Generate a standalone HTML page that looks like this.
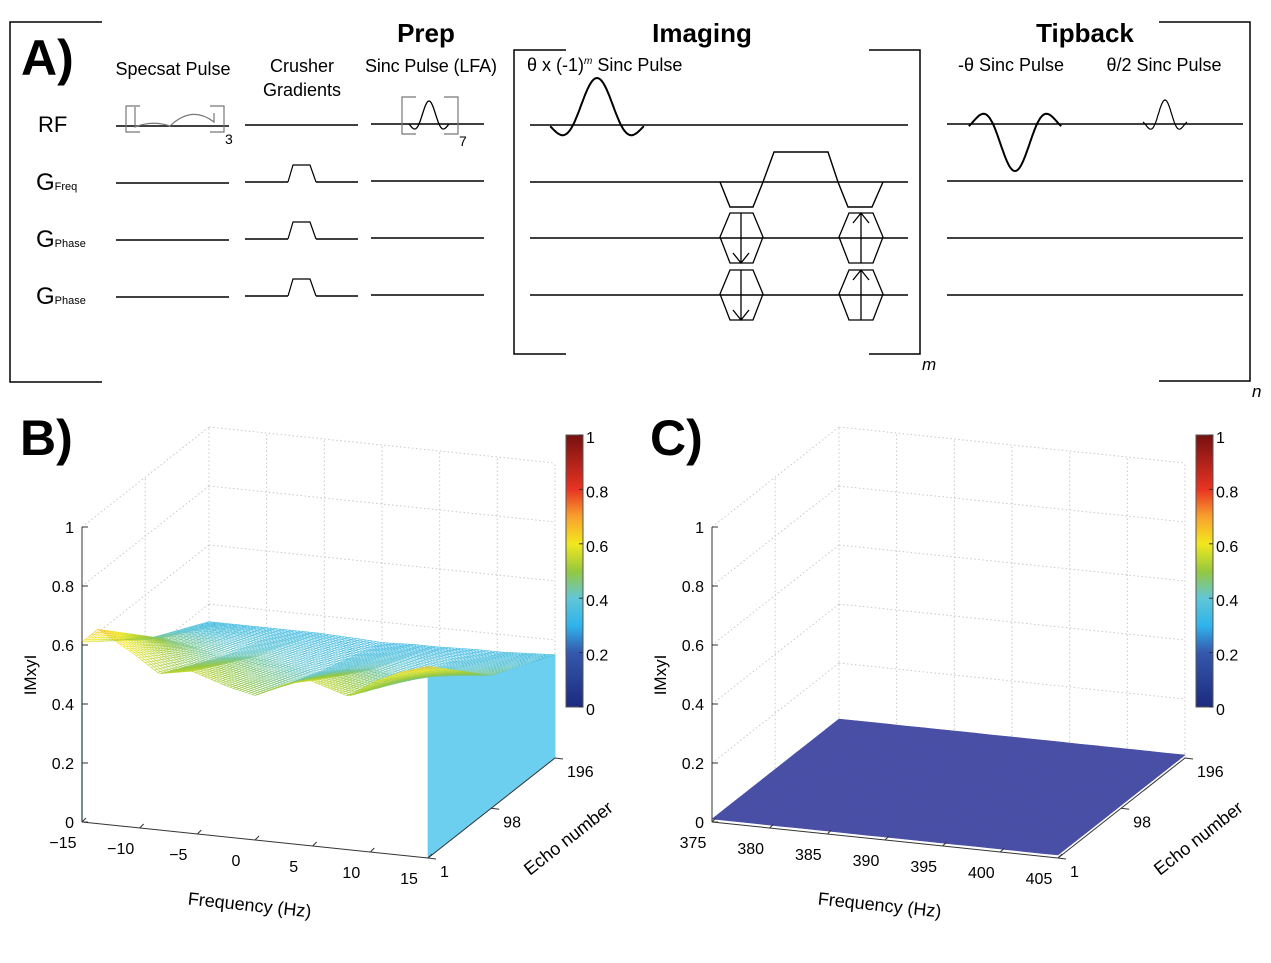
<!DOCTYPE html>
<html><head><meta charset="utf-8"><style>
html,body{margin:0;padding:0;background:#fff;}
svg text{font-family:"Liberation Sans",sans-serif;}
</style></head><body>
<svg id="fig" width="1271" height="958" viewBox="0 0 1271 958" xmlns="http://www.w3.org/2000/svg">
<defs>
<linearGradient id="jet" x1="0" y1="1" x2="0" y2="0">
<stop offset="0" stop-color="#1c2a7e"/><stop offset="0.2" stop-color="#3558ac"/><stop offset="0.3" stop-color="#2fb4ec"/><stop offset="0.4" stop-color="#62c6d6"/><stop offset="0.5" stop-color="#96c83e"/><stop offset="0.6" stop-color="#f2e81e"/><stop offset="0.7" stop-color="#f8a02e"/><stop offset="0.8" stop-color="#e83422"/><stop offset="1" stop-color="#761010"/>
</linearGradient>
</defs>
<g id="panelA" fill="none" stroke="#000" stroke-width="1.5">
<path d="M102 22 H10 V382 H102"/>
<path d="M1159 22 H1250 V381 H1159"/>
<path d="M566 50 H514 V354 H566"/>
<path d="M869 50 H920 V354 H869"/>
<g stroke-width="1.4">
<path d="M116 126 H229 M245 125 H358 M371 124 H484"/>
<path d="M116 183 H229 M245 182 H288 M316 182 H358 M371 181 H484"/>
<path d="M116 240 H229 M245 239 H288 M316 239 H358 M371 238 H484"/>
<path d="M116 297 H229 M245 296 H288 M316 296 H358 M371 295 H484"/>
<path d="M530 125 H908 M530 182 H908 M530 238 H908 M530 295 H908"/>
<path d="M947 124 H1243 M947 181 H1243 M947 238 H1243 M947 295 H1243"/>
</g>
<g stroke-width="1.2">
<path d="M288 182 L293 165 H310 L316 182"/>
<path d="M288 239 L293 222 H310 L316 239"/>
<path d="M288 296 L293 279 H310 L316 296"/>
</g>
<g stroke="#777" stroke-width="1.2">
<path d="M140 106 H126 V132 H140 M210 106 H224 V132 H210"/>
<path d="M135 107 V127 Q152 120 170 126 Q192 105 214 122 V113"/>
</g>
<g stroke="#777" stroke-width="1.2">
<path d="M416 97 H402 V134 H416 M444 97 H458 V134 H444"/>
</g>
<path id="sincLFA" stroke-width="1.3"/>
<path id="sincImg" stroke-width="2"/>
<path id="sincNeg" stroke-width="2"/>
<path id="sincHalf" stroke-width="1.2"/>
<g stroke-width="1.4">
<path d="M720 182 L730 207 H753 L763 182 L774 152 H828 L838 182 L848 207 H872 L883 182"/>
</g>
<g stroke-width="1.3">
<path d="M720 237 L730 213 H753 L763 237 L753 263 H730 Z M741 213 V263 M733 253 L741 263 L749 253"/>
<path d="M720 294 L730 270 H753 L763 294 L753 320 H730 Z M741 270 V320 M733 310 L741 320 L749 310"/>
<path d="M839 237 L849 213 H873 L883 237 L873 263 H849 Z M861 213 V263 M853 223 L861 213 L869 223"/>
<path d="M839 294 L849 270 H873 L883 294 L873 320 H849 Z M861 270 V320 M853 280 L861 270 L869 280"/>
</g>
</g>
<g fill="#000">
<text x="21" y="75" font-size="50" font-weight="bold">A)</text>
<text x="38" y="132" font-size="22">RF</text>
<text x="36" y="190" font-size="24">G<tspan font-size="11">Freq</tspan></text>
<text x="36" y="247" font-size="24">G<tspan font-size="11">Phase</tspan></text>
<text x="36" y="304" font-size="24">G<tspan font-size="11">Phase</tspan></text>
<text x="173" y="75" font-size="18" text-anchor="middle">Specsat Pulse</text>
<text x="302" y="72" font-size="18" text-anchor="middle">Crusher</text>
<text x="302" y="96" font-size="18" text-anchor="middle">Gradients</text>
<text x="426" y="42" font-size="26" font-weight="bold" text-anchor="middle">Prep</text>
<text x="431" y="72" font-size="18" text-anchor="middle" textLength="132">Sinc Pulse (LFA)</text>
<text x="225" y="144" font-size="14">3</text>
<text x="459" y="146" font-size="14">7</text>
<text x="702" y="42" font-size="26" font-weight="bold" text-anchor="middle">Imaging</text>
<text x="527" y="71" font-size="18">θ x (-1)<tspan font-size="10" dy="-7" font-style="italic">m</tspan><tspan dy="7"> Sinc Pulse</tspan></text>
<text x="922" y="370" font-size="17" font-style="italic">m</text>
<text x="1085" y="42" font-size="26" font-weight="bold" text-anchor="middle">Tipback</text>
<text x="1011" y="71" font-size="18" text-anchor="middle">-θ Sinc Pulse</text>
<text x="1164" y="71" font-size="18" text-anchor="middle">θ/2 Sinc Pulse</text>
<text x="1252" y="397" font-size="17" font-style="italic">n</text>
</g>
<g id="panelB"></g>
<g id="panelC"></g>
</svg>
<script>
// ---- data ----
const zTicks = [0, 0.2, 0.4, 0.6, 0.8, 1];
const zTickLabels = ["0", "0.2", "0.4", "0.6", "0.8", "1"];
const echoTicks = [1, 98, 196];
const echoRows = [1, 98, 196];
const freqTicksB = [-15, -10, -5, 0, 5, 10, 15];
const freqB = [-15, -13.6, -10.4, -8.3, -5.5, -2.3, 0, 2.7, 4.8, 8.1, 10.4, 12.6, 15];
const zBEcho1 = [0.61, 0.66, 0.585, 0.53, 0.55, 0.51, 0.49, 0.54, 0.56, 0.52, 0.58, 0.62, 0.65];
const zBEcho98 = [0.45, 0.46, 0.44, 0.42, 0.43, 0.41, 0.4, 0.42, 0.43, 0.41, 0.43, 0.44, 0.45];
const zBEcho196 = [0.34, 0.34, 0.34, 0.34, 0.34, 0.335, 0.33, 0.335, 0.335, 0.34, 0.34, 0.345, 0.35];
const freqTicksC = [375, 380, 385, 390, 395, 400, 405];
const freqC = [375, 390, 405];
const zCEcho1 = [0.01, 0.01, 0.01];
const zCEcho98 = [0.01, 0.01, 0.01];
const zCEcho196 = [0.01, 0.01, 0.01];
const cbarTicks = [0, 0.2, 0.4, 0.6, 0.8, 1];
const cbarLabels = ["0", "0.2", "0.4", "0.6", "0.8", "1"];

const NS = "http://www.w3.org/2000/svg";
function mk(tag, attrs, parent) {
  const e = document.createElementNS(NS, tag);
  for (const k in attrs) e.setAttribute(k, attrs[k]);
  parent.appendChild(e);
  return e;
}

function sincD(cx, by, amp, unit, tmax) {
  let d = "";
  for (let i = 0; i <= 80; i++) {
    const t = -tmax + 2 * tmax * i / 80;
    const v = Math.abs(t) < 1e-6 ? 1 : Math.sin(Math.PI * t) / (Math.PI * t);
    d += (i ? "L" : "M") + (cx + t * unit).toFixed(1) + " " + (by - amp * v).toFixed(1);
  }
  return d;
}
document.getElementById("sincLFA").setAttribute("d", sincD(429, 124, 23, 10, 2));
document.getElementById("sincImg").setAttribute("d", sincD(597, 125, 47, 24, 1.95));
document.getElementById("sincNeg").setAttribute("d", sincD(1015, 124, -47, 22, 2.1));
document.getElementById("sincHalf").setAttribute("d", sincD(1165, 124, 24, 10, 2.2));

const jStops = [[0,[28,42,126]],[0.2,[53,88,172]],[0.3,[47,180,236]],[0.4,[98,198,214]],[0.5,[150,200,62]],[0.6,[242,232,30]],[0.7,[248,160,46]],[0.8,[232,52,34]],[1,[118,16,16]]];
function jet(v) {
  v = Math.max(0, Math.min(1, v));
  for (let i = 1; i < jStops.length; i++) {
    if (v <= jStops[i][0]) {
      const a = jStops[i-1], b = jStops[i], t = (v - a[0]) / (b[0] - a[0]);
      const c = a[1].map((x, k) => Math.round(x + (b[1][k] - x) * t));
      return "rgb(" + c.join(",") + ")";
    }
  }
  return "rgb(118,16,16)";
}

function rowInterp(fs, zs, f) {
  for (let i = 1; i < fs.length; i++) if (f <= fs[i]) {
    const t = (f - fs[i-1]) / (fs[i] - fs[i-1]);
    return zs[i-1] + (zs[i] - zs[i-1]) * t;
  }
  return zs[zs.length - 1];
}
function surfZ(fs, rows, f, echo) {
  const a = rowInterp(fs, rows[0], f), b = rowInterp(fs, rows[1], f), c = rowInterp(fs, rows[2], f);
  if (echo <= echoRows[1]) { const t = (echo - echoRows[0]) / (echoRows[1] - echoRows[0]); return a + (b - a) * t; }
  const t = (echo - echoRows[1]) / (echoRows[2] - echoRows[1]); return b + (c - b) * t;
}

function drawPanel(g, ox, letter, fTicks, fs, rows, mode) {
  const fMin = fTicks[0], fMax = fTicks[fTicks.length - 1];
  const fx = f => (f - fMin) / (fMax - fMin);
  const ex = e => (e - 1) / 195;
  const P = (fn, en, z) => [ox + fn * 346 + en * 127, 822 + fn * 36 - en * 100 - z * 295];
  const pstr = arr => arr.map(p => p[0].toFixed(1) + "," + p[1].toFixed(1)).join(" ");

  let t = mk("text", {x: ox - 62, y: 455, "font-size": 50, "font-weight": "bold"}, g);
  
  
  t.textContent = letter + ")";

  const grid = mk("g", {stroke: "#c8c8c8", "stroke-width": 1, "stroke-dasharray": "1.5 2.5"}, g);
  
  
  const gl = (a, b) => { mk("line", {x1: a[0], y1: a[1], x2: b[0], y2: b[1]}, grid); };
  echoTicks.forEach(e => gl(P(0, ex(e), 0), P(0, ex(e), 1)));
  zTicks.forEach(z => { gl(P(0, 0, z), P(0, 1, z)); gl(P(0, 1, z), P(1, 1, z)); });
  fTicks.forEach(f => gl(P(fx(f), 1, 0), P(fx(f), 1, 1)));

  const surf = mk("g", {}, g);
  
  
  if (mode === "mesh") {
    const NE = 45, NF = 110;
    // white occluding faces
    const occ = mk("g", {fill: "#fff", stroke: "#fff", "stroke-width": 1}, surf);
    
    
    let front = [], left = [];
    for (let i = 0; i <= NF; i++) { const f = fMin + (fMax - fMin) * i / NF; front.push(P(fx(f), 0, surfZ(fs, rows, f, 1))); }
    mk("polygon", {points: pstr(front.concat([P(1, 0, 0), P(0, 0, 0)]))}, occ);
    for (let j = 0; j <= 20; j++) { const e = 1 + 195 * j / 20; left.push(P(0, ex(e), surfZ(fs, rows, fMin, e))); }
    mk("polygon", {points: pstr([P(0, 0, 0)].concat(left, [P(0, 1, 0)]))}, occ);
    for (let j = 0; j < 15; j++) for (let i = 0; i < 40; i++) {
      const e1 = 1 + 195 * j / 15, e2 = 1 + 195 * (j + 1) / 15;
      const f1 = fMin + (fMax - fMin) * i / 40, f2 = fMin + (fMax - fMin) * (i + 1) / 40;
      mk("polygon", {points: pstr([P(fx(f1), ex(e1), surfZ(fs, rows, f1, e1)), P(fx(f2), ex(e1), surfZ(fs, rows, f2, e1)), P(fx(f2), ex(e2), surfZ(fs, rows, f2, e2)), P(fx(f1), ex(e2), surfZ(fs, rows, f1, e2))])}, occ);
    }
    // right curtain
    let pts = [];
    for (let i = 0; i <= 60; i++) { const e = 1 + 195 * i / 60; pts.push(P(1, ex(e), surfZ(fs, rows, fMax, e))); }
    pts.push(P(1, 1, 0)); pts.push(P(1, 0, 0));
    const cur = mk("polygon", {points: pstr(pts), fill: "#6ccff0", stroke: "#6ccff0", "stroke-width": 0.8}, surf);
    
    
    const lc = mk("line", {x1: P(0,0,0)[0], y1: P(0,0,0)[1], x2: P(0,0,rows[0][0])[0], y2: P(0,0,rows[0][0])[1], stroke: "#6ccff0", "stroke-width": 1.5}, surf);
    
    
    for (let j = NE; j >= 0; j--) {
      const e = 1 + 195 * j / NE;
      for (let i = 0; i < NF; i++) {
        const f1 = fMin + (fMax - fMin) * i / NF, f2 = fMin + (fMax - fMin) * (i + 1) / NF;
        const z1 = surfZ(fs, rows, f1, e), z2 = surfZ(fs, rows, f2, e);
        const a = P(fx(f1), ex(e), z1), b = P(fx(f2), ex(e), z2);
        const s = mk("line", {x1: a[0].toFixed(1), y1: a[1].toFixed(1), x2: b[0].toFixed(1), y2: b[1].toFixed(1), stroke: jet((z1 + z2) / 2), "stroke-width": 0.6}, surf);
        
        
      }
    }
    for (let i = 0; i <= NF; i++) {
      const f = fMin + (fMax - fMin) * i / NF;
      for (let j = 0; j < 30; j++) {
        const e1 = 1 + 195 * j / 30, e2 = 1 + 195 * (j + 1) / 30;
        const z1 = surfZ(fs, rows, f, e1), z2 = surfZ(fs, rows, f, e2);
        const a = P(fx(f), ex(e1), z1), b = P(fx(f), ex(e2), z2);
        const s = mk("line", {x1: a[0].toFixed(1), y1: a[1].toFixed(1), x2: b[0].toFixed(1), y2: b[1].toFixed(1), stroke: jet((z1 + z2) / 2), "stroke-width": 0.6}, surf);
        
        
      }
    }
  } else {
    const NE = 20, NF = 20;
    for (let j = NE - 1; j >= 0; j--) for (let i = 0; i < NF; i++) {
      const e1 = 1 + 195 * j / NE, e2 = 1 + 195 * (j + 1) / NE;
      const f1 = fMin + (fMax - fMin) * i / NF, f2 = fMin + (fMax - fMin) * (i + 1) / NF;
      const q = [P(fx(f1), ex(e1), surfZ(fs, rows, f1, e1)), P(fx(f2), ex(e1), surfZ(fs, rows, f2, e1)), P(fx(f2), ex(e2), surfZ(fs, rows, f2, e2)), P(fx(f1), ex(e2), surfZ(fs, rows, f1, e2))];
      const s = mk("polygon", {points: pstr(q), fill: "#4a4fa6", stroke: "#4a4fa6", "stroke-width": 0.6}, surf);
      
      
    }
  }

  const ax = mk("g", {stroke: "#333", "stroke-width": 1, fill: "#000", "font-size": 16}, g);
  
  
  const al = (a, b) => mk("line", {x1: a[0], y1: a[1], x2: b[0], y2: b[1]}, ax);
  al(P(0, 0, 0), P(0, 0, 1)); al(P(0, 0, 0), P(1, 0, 0)); al(P(1, 0, 0), P(1, 1, 0));
  zTicks.forEach((z, k) => {
    const p = P(0, 0, z); al(p, [p[0] + 6, p[1]]);
    const tx = mk("text", {x: p[0] - 8, y: p[1] + 6, "text-anchor": "end", stroke: "none"}, ax);
    
    
    tx.textContent = zTickLabels[k];
  });
  fTicks.forEach(f => {
    const p = P(fx(f), 0, 0); al(p, [p[0] + 4, p[1] - 4]);
    const tx = mk("text", {x: p[0] - 19, y: p[1] + 26, "text-anchor": "middle", stroke: "none"}, ax);
    
    
    tx.textContent = String(f).replace("-", "\u2212");
  });
  echoTicks.forEach(e => {
    const p = P(1, ex(e), 0); al(p, [p[0] + 8, p[1] + 1]);
    const tx = mk("text", {x: p[0] + 12, y: p[1] + 19, stroke: "none"}, ax);
    
    
    tx.textContent = e;
  });
  let yl = mk("text", {x: 0, y: 0, "font-size": 17, "text-anchor": "middle", transform: "translate(" + (ox - 46) + ",675) rotate(-90)"}, g);
  
  
  yl.textContent = "IMxyI";
  let xl = mk("text", {x: 0, y: 0, "font-size": 18, "text-anchor": "middle", transform: "translate(" + (ox + 167) + ",911) rotate(6)"}, g);
  
  
  xl.textContent = "Frequency (Hz)";
  let el = mk("text", {x: 0, y: 0, "font-size": 18, "text-anchor": "middle", transform: "translate(" + (ox + 490) + ",843) rotate(-38)"}, g);
  
  
  el.textContent = "Echo number";

  const cbx = ox + 484;
  const cb = mk("rect", {x: cbx, y: 435, width: 17, height: 272, fill: "url(#jet)", stroke: "#555", "stroke-width": 1}, g);
  
  
  cbarTicks.forEach((v, k) => {
    const y = 707 - v * 272;
    mk("line", {x1: cbx + 13, y1: y, x2: cbx + 17, y2: y, stroke: "#333"}, g);
    const tx = mk("text", {x: cbx + 20, y: y + 8, "font-size": 16}, g);
    
    
    tx.textContent = cbarLabels[k];
  });
}

drawPanel(document.getElementById("panelB"), 82, "B", freqTicksB, freqB, [zBEcho1, zBEcho98, zBEcho196], "mesh");
drawPanel(document.getElementById("panelC"), 712, "C", freqTicksC, freqC, [zCEcho1, zCEcho98, zCEcho196], "flat");
</script>
</body></html>
